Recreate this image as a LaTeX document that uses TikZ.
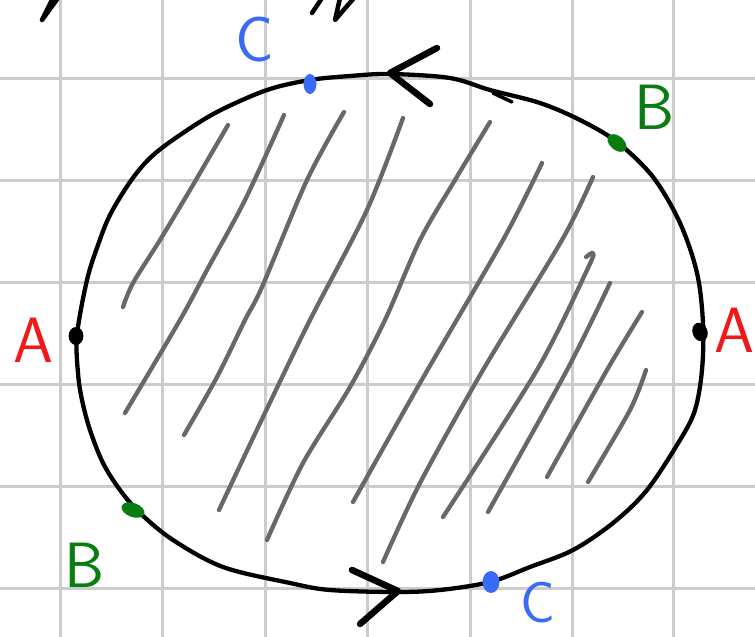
\documentclass[tikz,border=0pt]{standalone}
\usepackage{tikz}
\definecolor{gridc}{HTML}{CCCCCC}
\definecolor{hatchc}{HTML}{686868}
\definecolor{redc}{HTML}{F01818}
\definecolor{greenc}{HTML}{0A7D12}
\definecolor{bluec}{HTML}{3A6BF5}
\tikzset{
  gridline/.style={draw=gridc,line width=3pt},
  hatchline/.style={draw=hatchc,line width=4.3pt,line cap=round,line join=round},
  rim/.style={draw=black,line width=4.3pt,line join=round},
  tipstroke/.style={draw=black,line width=6.5pt,line cap=round,line join=round},
  penstroke/.style={draw=black,line width=4.5pt,line cap=round,line join=round},
  lab/.style={inner sep=0pt,font=\sffamily\fontsize{64}{64}\selectfont},
}
\begin{document}
\begin{tikzpicture}[x=1pt,y=-1pt]
\useasboundingbox (0,0) rectangle (755,637);
% grid
\foreach \x in {60,162,265,367,470,572,673} \draw[gridline] (\x,0) -- (\x,637);
\foreach \y in {78,180,282,384,486,588} \draw[gridline] (0,\y) -- (755,\y);
% hatching
\draw[hatchline] plot[smooth,tension=0.5] coordinates {(123,307)(133,283)(160,240)(190,190)(228,125)};
\draw[hatchline] plot[smooth,tension=0.5] coordinates {(125,413)(180,320)(207,270)(245,200)(284,115)};
\draw[hatchline] plot[smooth,tension=0.5] coordinates {(184,435)(217,377)(245,320)(262,287)(307,180)(344,112)};
\draw[hatchline] plot[smooth,tension=0.5] coordinates {(219,510)(263,417)(310,320)(367,210)(403,118)};
\draw[hatchline] plot[smooth,tension=0.5] coordinates {(267,540)(303,463)(350,387)(385,320)(420,240)(455,180)(490,122)};
\draw[hatchline] plot[smooth,tension=0.5] coordinates {(353,502)(420,383)(503,240)(542,163)};
\draw[hatchline] plot[smooth,tension=0.5] coordinates {(383,562)(420,483)(483,370)(562,240)(593,177)};
\draw[hatchline] plot[smooth,tension=0.5] coordinates {(443,517)(537,370)(588,268)(593,253)(586,257)};
\draw[hatchline] plot[smooth,tension=0.5] coordinates {(488,512)(567,370)(610,283)};
\draw[hatchline] plot[smooth,tension=0.5] coordinates {(547,477)(607,370)(642,312)};
\draw[hatchline] plot[smooth,tension=0.5] coordinates {(588,482)(630,410)(646,370)};
% rim
\draw[rim] plot[smooth cycle,tension=0.55] coordinates {
(77,335)(87,280)(98,245)(110,215)(130,182)(150,158)(177,137)(217,112)(267,90)(310,80)(350,76)(390,74)(450,78)(490,90)(540,103)(580,120)(617,142)(653,177)(680,223)(697,273)(703,323)(702,370)(695,410)(680,440)(647,490)(613,523)(573,550)(530,567)(490,582)(440,590)(397,592)(330,590)(290,583)(223,567)(173,540)(140,513)(120,490)(103,463)(90,430)(82,400)(78,373)};
\draw[black,line width=3.5pt,line cap=round] (493,93) -- (512,102);
% arrow tips
\coordinate (ttip) at (390,73);
\coordinate (tarm1) at (437,48);
\coordinate (tarm2) at (430,104);
\coordinate (btip) at (398,591);
\coordinate (barm1) at (352,570);
\coordinate (barm2) at (360,624);
\draw[tipstroke] (tarm1) -- (ttip) -- (tarm2);
\draw[tipstroke] (barm1) -- (btip) -- (barm2);
% dots
\fill[black] (76,336) ellipse [x radius=7.5pt,y radius=9pt];
\fill[black,rotate around={20:(700,332)}] (700,332) ellipse [x radius=7.5pt,y radius=9.5pt];
\fill[bluec] (310,84) ellipse [x radius=6.5pt,y radius=10pt];
\fill[bluec] (491,582) ellipse [x radius=8.5pt,y radius=11pt];
\fill[greenc,rotate around={-40:(617,143)}] (617,143) ellipse [x radius=11pt,y radius=7pt];
\fill[greenc,rotate around={-20:(133,510)}] (133,510) ellipse [x radius=12pt,y radius=7pt];
% labels
\node[lab,text=redc] (lAl) at (33,340) {A};
\node[lab,text=redc,anchor=west] (lAr) at (714,330) {A};
\node[lab,text=greenc] (lBt) at (655,107) {B};
\node[lab,text=greenc] (lBb) at (85,565) {B};
\node[lab,text=bluec] (lCt) at (255,40) {C};
\node[lab,text=bluec,font=\sffamily\fontsize{58}{58}\selectfont] (lCb) at (538,603) {C};
% cut-off writing at the top
\draw[penstroke] (53,-2) -- (42,20) -- (58,-2);
\draw[penstroke] (312,13) -- (322,-2);
\draw[penstroke] (340,-2) -- (335,20) -- (354,-2);
\end{tikzpicture}
\end{document}
